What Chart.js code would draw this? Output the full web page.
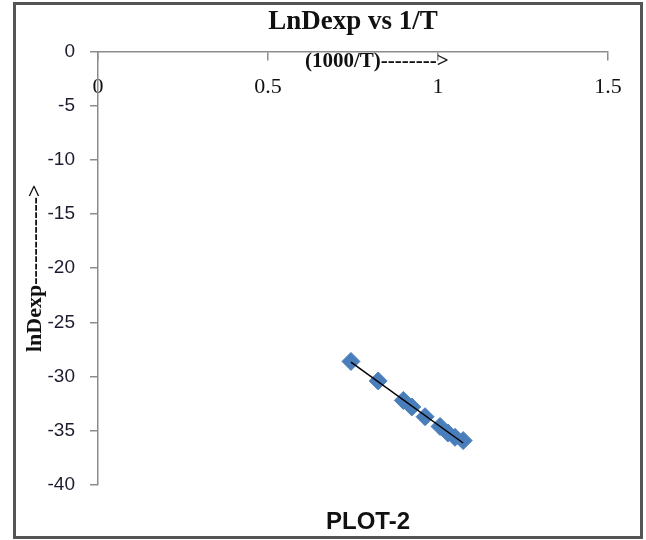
<!DOCTYPE html>
<html>
<head>
<meta charset="utf-8">
<title>LnDexp vs 1/T</title>
<script src="https://cdn.jsdelivr.net/npm/chart.js@4.4.1/dist/chart.umd.min.js"></script>
<style>
  html, body { margin: 0; padding: 0; background: #fff; }
  #box {
    position: absolute;
    left: 13px;
    top: 2px;
    width: 630px;
    height: 537px;
    box-sizing: border-box;
    border: 3px solid #555;
  }
  #plot { display: block; }
</style>
</head>
<body>
<div id="box">
  <canvas id="plot" width="624" height="531"></canvas>
</div>
<script>
// 1000/T values (x) and lnDexp values (y)
const invTemp = [0.744, 0.824, 0.898, 0.923, 0.962, 1.006, 1.029, 1.050, 1.074];
const lnDexp = [-28.6, -30.4, -32.2, -32.8, -33.7, -34.6, -35.2, -35.6, -35.9];

const xTicks = [0, 0.5, 1, 1.5];
const yTicks = [0, -5, -10, -15, -20, -25, -30, -35, -40];

const points = invTemp.map((x, i) => ({ x: x, y: lnDexp[i] }));

// linear trendline through the points (least squares)
const n = invTemp.length;
const sx = invTemp.reduce((a, b) => a + b, 0);
const sy = lnDexp.reduce((a, b) => a + b, 0);
const sxy = invTemp.reduce((a, x, i) => a + x * lnDexp[i], 0);
const sxx = invTemp.reduce((a, x) => a + x * x, 0);
const slope = (n * sxy - sx * sy) / (n * sxx - sx * sx);
const intercept = (sy - slope * sx) / n;
const xMin = Math.min(...invTemp);
const xMax = Math.max(...invTemp);
const trend = [
  { x: xMin, y: slope * xMin + intercept },
  { x: xMax, y: slope * xMax + intercept }
];

// axis title under the top x axis line, and the PLOT-2 caption
const extraText = {
  id: "extraText",
  afterDraw(chart) {
    const ctx = chart.ctx;
    const area = chart.chartArea;
    ctx.save();
    ctx.fillStyle = "#111";
    ctx.textBaseline = "middle";
    ctx.font = "bold 21px 'Liberation Serif', serif";
    ctx.textAlign = "left";
    ctx.fillText("(1000/T)-------->", area.left + 207, area.top + 10);
    ctx.font = "bold 24px 'Liberation Sans', sans-serif";
    ctx.textAlign = "center";
    ctx.fillText("PLOT-2", (area.left + area.right) / 2 + 15, area.bottom + 37);
    ctx.restore();
  }
};

const axisGrey = "#8c8c8c";

let myChart = new Chart(document.getElementById("plot"), {
  type: "scatter",
  plugins: [extraText],
  data: {
    datasets: [
      {
        type: "line",
        data: trend,
        borderColor: "#000",
        borderWidth: 1.5,
        pointRadius: 0,
        fill: false,
        order: 1
      },
      {
        data: points,
        pointStyle: "rectRot",
        pointRadius: 9,
        backgroundColor: "#4a7ebb",
        borderColor: "#4a7ebb",
        borderWidth: 1,
        order: 2
      }
    ]
  },
  options: {
    responsive: false,
    animation: false,
    layout: { padding: { left: 0, right: 32, top: 0, bottom: 51 } },
    plugins: {
      legend: { display: false },
      tooltip: { enabled: false },
      title: {
        display: true,
        text: "LnDexp vs 1/T",
        fullSize: false,
        color: "#111",
        font: { family: "'Liberation Serif', serif", size: 27, weight: "bold" },
        padding: { top: 1, bottom: 13 }
      }
    },
    scales: {
      x: {
        type: "linear",
        position: { y: 0 },
        min: 0,
        max: 1.5,
        afterBuildTicks: (scale) => { scale.ticks = xTicks.map(v => ({ value: v })); },
        grid: { drawOnChartArea: false, drawTicks: true, tickLength: 8, color: axisGrey, lineWidth: 1.5 },
        border: { color: axisGrey, width: 1.5 },
        ticks: {
          color: "#111",
          padding: 15,
          callback: (v) => String(v),
          font: { family: "'Liberation Serif', serif", size: 22 }
        }
      },
      y: {
        type: "linear",
        position: "left",
        min: -40,
        max: 0,
        afterBuildTicks: (scale) => { scale.ticks = yTicks.map(v => ({ value: v })); },
        afterFit: (scale) => { scale.width = 82; },
        grid: { drawOnChartArea: false, drawTicks: true, tickLength: 8, color: axisGrey, lineWidth: 1.5 },
        border: { color: axisGrey, width: 1.5 },
        ticks: {
          color: "#1c1c30",
          padding: 15,
          font: { family: "'Liberation Sans', sans-serif", size: 19 }
        },
        title: {
          display: true,
          text: "lnDexp------------>",
          color: "#111",
          font: { family: "'Liberation Serif', serif", size: 22, weight: "bold" },
          padding: { top: 6, bottom: 0 }
        }
      }
    }
  }
});
</script>
</body>
</html>
